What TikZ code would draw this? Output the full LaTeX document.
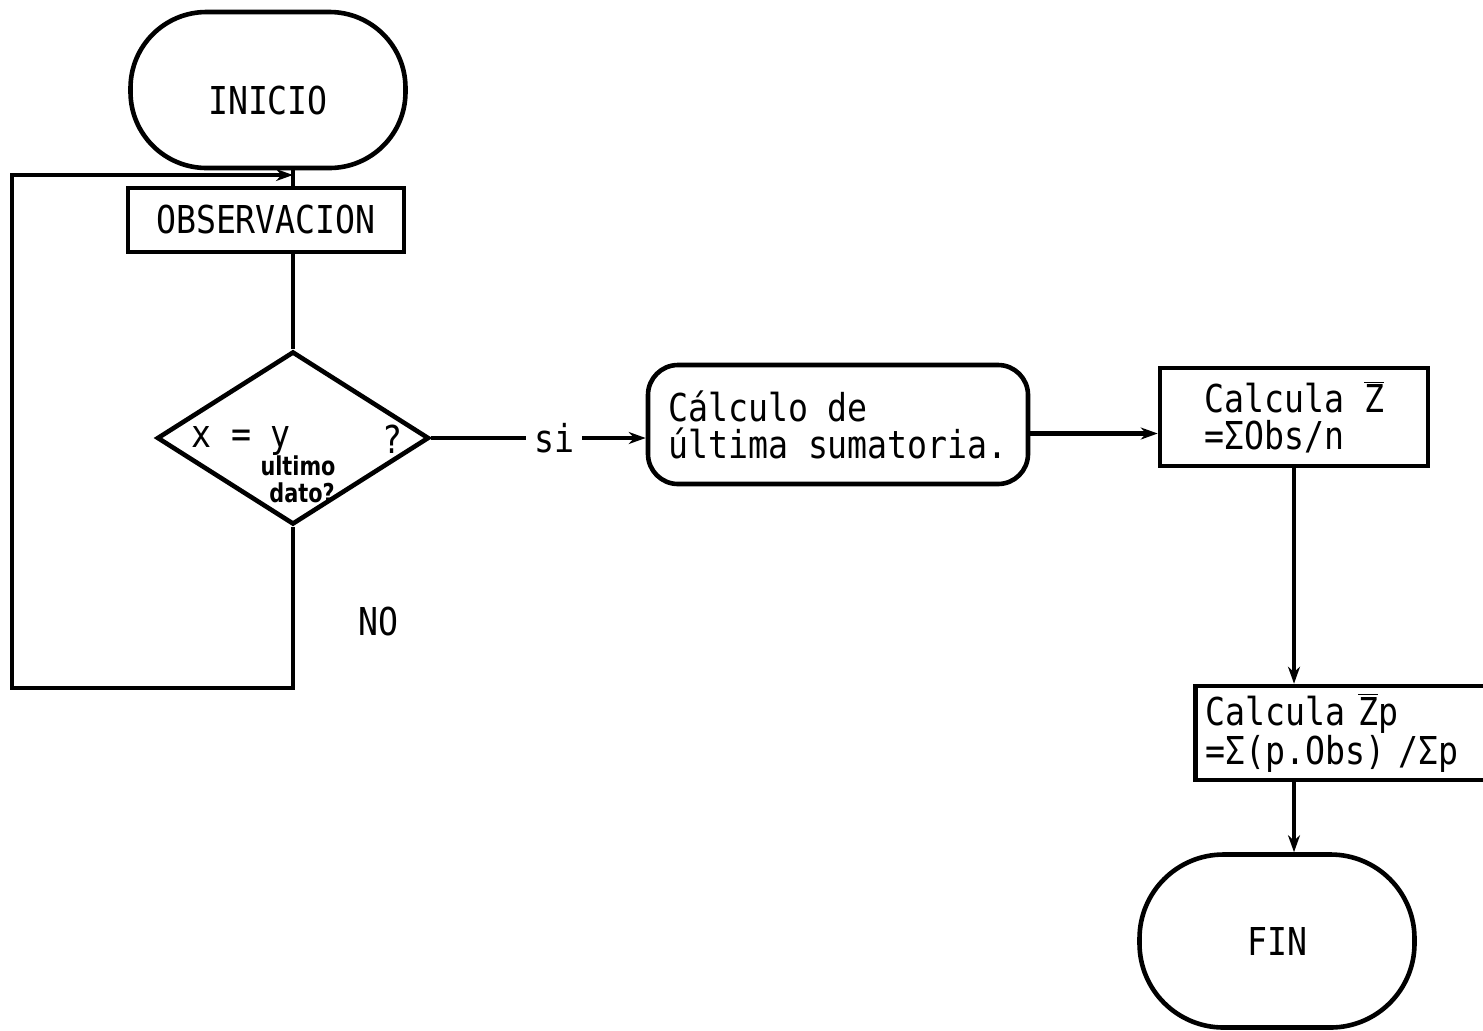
\documentclass[tikz,border=0pt]{standalone}
\usepackage{fontspec}
\setmainfont{DejaVu Sans Mono}[FakeStretch=0.865]
\newfontfamily\handfont{DejaVu Sans}[FakeStretch=0.8]
\usetikzlibrary{shapes.geometric,arrows.meta}
\begin{document}
\begin{tikzpicture}[x=0.5pt,y=-0.5pt,
  every node/.style={font=\fontsize{19.2}{18.5}\selectfont},
  conn/.style={line width=2.3pt},
  arr/.style={-{Stealth[length=8.5pt,width=6pt]}},
  box/.style={draw,conn,rectangle},
  term/.style={draw,conn,rectangle},
  hand/.style={font=\handfont\bfseries\fontsize{13}{13}\selectfont, inner sep=0pt}]
\useasboundingbox (0,0) rectangle (1483,1030);
% nodes
\node[term, minimum width=137.5pt, minimum height=78pt, rounded corners=38pt] (inicio) at (268,90) {\raisebox{-12pt}[0pt][0pt]{INICIO}};
\node[box, minimum width=138pt, minimum height=32pt] (obs) at (266,220) {OBSERVACION};
\node[draw, conn, diamond, minimum width=136pt, minimum height=86.5pt, inner sep=0pt] (dia) at (293,438) {};
\node (dxy) at (241,441) {x = y};
\node (dq) at (392,439) {?};
\node[hand] (du) at (298,466) {ultimo};
\node[hand] (dd) at (302,493) {dato?};
\node[draw, conn, rounded corners=15pt, minimum width=190pt, minimum height=59.5pt, align=left] (calc) at (838,424.5) {Cálculo de\\última sumatoria.};
\node[box, minimum width=134pt, minimum height=49pt, align=left] (cz) at (1294,417) {Calcula $\overline{\mbox{Z}}$\\=ΣObs/n};
\node[box, anchor=west, text width=145pt, inner xsep=5pt, minimum height=47pt, align=left] (czp) at (1193,733) {Calcula $\overline{\mbox{Z}}$p\\=Σ(p.Obs) /Σp};
\node[term, minimum width=137.5pt, minimum height=86.5pt, rounded corners=42pt] (fin) at (1277,941) {FIN};
\node (no) at (378,622) {NO};
% coordinates
\coordinate (j) at (293,175);
\coordinate (lb) at (293,688);
\coordinate (ll) at (12,688);
\coordinate (lt) at (12,175);
% connectors
\draw[conn] (inicio.south -| dia.north) -- (obs.north -| dia.north);
\draw[conn] (obs.south -| dia.north) -- (dia.north);
\draw[conn, arr] (dia.south) -- (lb) -- (ll) -- (lt) -- (j);
\draw[conn, arr] (dia.east) -- node[fill=white, pos=0.573, inner xsep=4pt]{si} (dia.east -| calc.west);
\draw[conn, arr] ([yshift=-4.5pt]calc.east) -- ([yshift=-4.5pt]calc.east -| cz.west);
\draw[conn, arr] (cz.south) -- (cz.south |- czp.north);
\draw[conn, arr] (cz.south |- czp.south) -- (cz.south |- fin.north);
\end{tikzpicture}
\end{document}
